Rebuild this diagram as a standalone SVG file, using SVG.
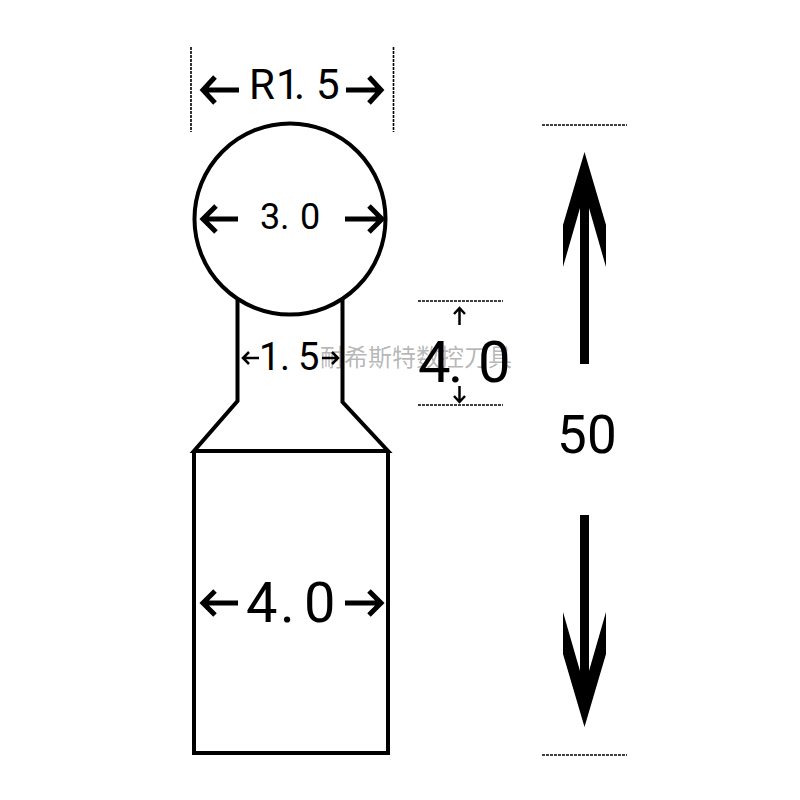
<svg xmlns="http://www.w3.org/2000/svg" width="800" height="800" viewBox="0 0 800 800">
<style>
.o{fill:none;stroke:#000;stroke-width:4}
.a{fill:none;stroke:#000;stroke-width:5}
.a2{fill:none;stroke:#000;stroke-width:2.5}
.d{fill:none;stroke:#000;stroke-width:1.6;stroke-dasharray:3 1}
.t{font-family:Roboto,"Liberation Sans",sans-serif;fill:#000}
.w{font-family:"Noto Sans CJK SC",sans-serif;font-size:24px;fill:#000;fill-opacity:.3}
</style>
<rect width="800" height="800" fill="#fff"/>
<g id="part">
<circle class="o" cx="290" cy="219" r="95.500"/>
<path class="o" d="M237.500 300V401L194 451H388L342.500 402V300M194 451V753H388V451"/>
</g>
<g id="connectors">
<path class="d" d="M191 47V132M393.500 47V132M542 125H627M542 755H627M418 301H503M418 405H503"/>
<path class="a" d="M204 90H239M215 77L203 90L215 103M346 90H381M369 77L381 90L369 103"/>
<path class="a" d="M203 219H238M216 206L203 219L216 232M345 219H381M369 206L382 219L369 232"/>
<path class="a" d="M204 603H238M215 591L203 603L215 615M345 603H381M369 591L381 603L369 615"/>
<path class="a2" d="M243 358H259M249 352L243 358L249 364M322 358H338M332 352L338 358L332 364"/>
<path class="a2" d="M459.500 325V308M454 314L459.500 308L465 314M459.500 386V402M454 396L459.500 402L465 396"/>
<rect x="580" y="195" width="9" height="169" fill="#000"/>
<rect x="580" y="515" width="9" height="170" fill="#000"/>
<path d="M584.500 152L606 225V267L589 208H580L563 267V225Z" fill="#000"/>
<path d="M584.500 727L606 654V612L589 671H580L563 612V654Z" fill="#000"/>
</g>
<g id="labels">
<text class="t" font-size="42" x="249 276 294 316" y="99">R1.5</text>
<text class="t" font-size="36" x="260 280 300" y="229">3.0</text>
<text class="t" font-size="38" x="259 280 298" y="370">1.5</text>
<text class="t" font-size="56" x="246 280 304" y="622">4.0</text>
<text class="t" font-size="58" x="418 448 478" y="382">4.0</text>
<text class="t" font-size="53" x="557 587" y="453">50</text>
<text class="w" x="320" y="366">耐希斯特数控刀具</text>
</g>
</svg>
